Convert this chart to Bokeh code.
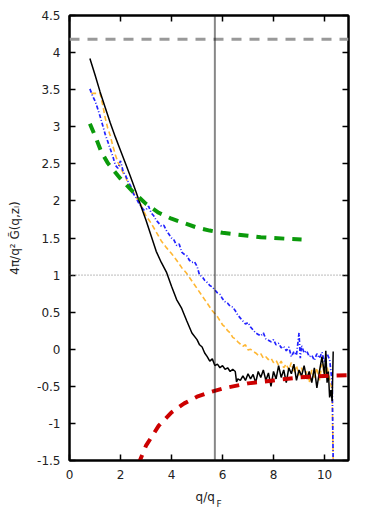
from bokeh.plotting import figure
from bokeh.models import Range1d, LinearAxis, Span, FixedTicker, CustomJSTickFormatter
from bokeh.embed import file_html
from bokeh.resources import INLINE

# ---------------- data ----------------
x_ticks = [0, 2, 4, 6, 8, 10]
y_ticks = [-1.5, -1, -0.5, 0, 0.5, 1, 1.5, 2, 2.5, 3, 3.5, 4, 4.5]

q_fermi_line = 5.7
g_limit = 4.18
unity = 1.0

black_q = [0.8, 1.0, 1.2, 1.4, 1.6, 1.8, 2.0, 2.2, 2.4, 2.6, 2.8, 3.0, 3.2, 3.4, 3.6, 3.8,
           4.0, 4.2, 4.4, 4.6, 4.8, 5.0, 5.1, 5.2, 5.3, 5.4, 5.5, 5.6, 5.7, 5.8, 5.9, 6.0,
           6.1, 6.2, 6.3, 6.4, 6.5, 6.55, 6.6, 6.7, 6.8, 6.9, 7.0, 7.1, 7.2, 7.3, 7.4, 7.5,
           7.6, 7.7, 7.8, 7.9, 8.0, 8.1, 8.2, 8.3, 8.4, 8.5, 8.6, 8.7, 8.8, 8.9, 9.0, 9.1,
           9.2, 9.3, 9.4, 9.5, 9.6, 9.7, 9.8, 9.9, 10.0, 10.05, 10.1, 10.15, 10.2, 10.25,
           10.3, 10.34]
black_g = [3.92, 3.70, 3.47, 3.26, 3.05, 2.86, 2.68, 2.50, 2.32, 2.13, 1.93, 1.74, 1.53,
           1.32, 1.17, 1.04, 0.85, 0.67, 0.55, 0.38, 0.22, 0.13, 0.06, 0.03, -0.05, -0.10,
           -0.16, -0.13, -0.22, -0.20, -0.25, -0.22, -0.27, -0.25, -0.30, -0.27, -0.30,
           -0.44, -0.40, -0.42, -0.36, -0.42, -0.33, -0.40, -0.34, -0.45, -0.30, -0.38,
           -0.28, -0.42, -0.32, -0.50, -0.30, -0.40, -0.22, -0.38, -0.28, -0.45, -0.25,
           -0.33, -0.20, -0.42, -0.28, -0.36, -0.22, -0.40, -0.30, -0.45, -0.25, -0.52,
           -0.30, -0.10, -0.35, -0.02, -0.45, -0.30, -0.65, -0.55, -0.70, -0.03]

blue_q = [0.8, 0.9, 1.0, 1.1, 1.2, 1.3, 1.4, 1.5, 1.6, 1.7, 1.8, 1.9, 2.0, 2.1, 2.2, 2.3,
          2.4, 2.5, 2.6, 2.7, 2.8, 2.9, 3.0, 3.1, 3.2, 3.3, 3.4, 3.5, 3.6, 3.7, 3.8, 3.9,
          4.0, 4.1, 4.2, 4.3, 4.4, 4.5, 4.6, 4.7, 4.8, 4.9, 5.0, 5.1, 5.2, 5.3, 5.4, 5.5,
          5.6, 5.7, 5.8, 5.9, 6.0, 6.1, 6.2, 6.3, 6.4, 6.5, 6.6, 6.7, 6.8, 6.9, 7.0, 7.1,
          7.2, 7.3, 7.4, 7.5, 7.6, 7.7, 7.8, 7.9, 8.0, 8.1, 8.2, 8.3, 8.4, 8.5, 8.6, 8.7,
          8.8, 8.9, 9.0, 9.05, 9.1, 9.2, 9.3, 9.4, 9.5, 9.6, 9.7, 9.8, 9.9, 10.0, 10.1,
          10.2, 10.3, 10.35]
blue_g = [3.51, 3.42, 3.35, 3.25, 3.14, 3.02, 2.90, 2.80, 2.70, 2.60, 2.48, 2.44, 2.54,
          2.40, 2.34, 2.26, 2.20, 2.10, 2.05, 1.98, 1.93, 1.88, 1.88, 1.93, 1.84, 1.80,
          1.74, 1.70, 1.66, 1.67, 1.60, 1.55, 1.50, 1.47, 1.40, 1.42, 1.31, 1.28, 1.26,
          1.20, 1.17, 1.18, 1.12, 1.00, 0.98, 0.93, 0.90, 0.86, 0.84, 0.80, 0.76, 0.74,
          0.68, 0.64, 0.62, 0.58, 0.57, 0.52, 0.46, 0.42, 0.38, 0.34, 0.36, 0.30, 0.26,
          0.22, 0.20, 0.18, 0.22, 0.14, 0.12, 0.10, 0.13, 0.06, 0.08, 0.02, 0.04, -0.02,
          0.03, -0.10, -0.03, -0.08, 0.22, -0.12, 0.05, -0.05, -0.02, -0.10, -0.08, -0.15,
          -0.06, -0.12, -0.04, -0.18, -0.06, -0.14, -0.45, -1.80]

orange_q = [0.85, 1.2, 1.3, 1.4, 1.5, 1.6, 1.7, 1.8, 1.9, 2.0, 2.1, 2.2, 2.3, 2.4, 2.5,
            2.6, 2.7, 2.8, 2.9, 3.0, 3.2, 3.4, 3.6, 3.8, 4.0, 4.2, 4.4, 4.6, 4.8, 5.0,
            5.2, 5.4, 5.6, 5.8, 6.0, 6.1, 6.2, 6.3, 6.4, 6.5, 6.6, 6.7, 6.8, 6.9, 7.0,
            7.1, 7.2, 7.3, 7.4, 7.5, 7.6, 7.7, 7.8, 7.9, 8.0, 8.1, 8.2, 8.3, 8.4, 8.5,
            8.6, 8.7, 8.8, 8.9, 9.0, 9.1, 9.2, 9.3, 9.4, 9.5, 9.6, 9.7, 9.8, 9.9, 10.0,
            10.1, 10.2, 10.3, 10.35]
orange_g = [3.45, 3.45, 3.30, 3.12, 2.98, 2.88, 2.74, 2.62, 2.52, 2.45, 2.38, 2.32, 2.24,
            2.18, 2.12, 2.06, 2.00, 1.95, 1.87, 1.80, 1.70, 1.58, 1.46, 1.37, 1.29, 1.20,
            1.10, 1.02, 0.92, 0.82, 0.72, 0.62, 0.52, 0.44, 0.33, 0.30, 0.25, 0.22, 0.16,
            0.14, 0.10, 0.07, 0.04, 0.06, -0.01, 0.00, -0.03, -0.05, -0.08, -0.06, -0.12,
            -0.10, -0.14, -0.12, -0.18, -0.15, -0.22, -0.16, -0.25, -0.20, -0.28, -0.18,
            -0.32, -0.22, -0.35, -0.25, -0.40, -0.30, -0.45, -0.28, -0.38, -0.25, -0.42,
            -0.20, -0.35, -0.24, -0.40, -0.55, -1.80]

green_q = [0.8, 1.0, 1.25, 1.5, 2.0, 2.5, 3.0, 3.5, 4.0, 4.5, 5.0, 5.5, 6.0, 6.5, 7.0,
           7.5, 8.0, 8.5, 9.1]
green_g = [3.04, 2.88, 2.66, 2.51, 2.30, 2.12, 1.96, 1.84, 1.76, 1.70, 1.64, 1.60, 1.57,
           1.55, 1.53, 1.51, 1.50, 1.49, 1.48]

red_q = [2.7, 3.0, 3.5, 4.0, 4.5, 5.0, 5.5, 6.0, 7.0, 8.0, 9.0, 10.0, 10.95]
red_g = [-1.55, -1.30, -1.03, -0.85, -0.73, -0.64, -0.58, -0.53, -0.46, -0.42, -0.38,
         -0.36, -0.35]

# ---------------- figure ----------------
FONT = "DejaVu Sans"
NB = "\u00a0"
p = figure(width=366, height=515, x_range=Range1d(0, 10.94), y_range=Range1d(-1.5, 4.5),
           output_backend="svg", toolbar_location=None,
           min_border_left=69, min_border_right=18, min_border_top=15, min_border_bottom=55)
p.xgrid.visible = False
p.ygrid.visible = False
p.outline_line_color = "black"
p.outline_line_width = 2
p.background_fill_color = "white"

fmt = CustomJSTickFormatter(code="return tick.toString();")
blank_fmt = CustomJSTickFormatter(code="return '';")

def style_axis(ax, ticks, show_labels=True):
    ax.ticker = FixedTicker(ticks=ticks)
    ax.major_tick_in = 6
    ax.major_tick_out = 0
    ax.minor_tick_line_color = None
    ax.axis_line_width = 2
    ax.major_tick_line_width = 1.5
    ax.major_label_text_font = FONT
    ax.major_label_text_color = "#222222"
    ax.major_label_text_font_size = "12px"
    if show_labels:
        ax.formatter = fmt
        ax.major_label_standoff = 9
    else:
        ax.formatter = blank_fmt
        ax.major_label_standoff = 0

style_axis(p.xaxis[0], x_ticks)
style_axis(p.yaxis[0], y_ticks)

p.yaxis[0].axis_label = "4π/q² G̃(q,zₗ)"
p.yaxis[0].axis_label_text_font = FONT
p.yaxis[0].axis_label_text_font_size = "12px"
p.yaxis[0].axis_label_text_font_style = "normal"
p.yaxis[0].axis_label_text_color = "#222222"
p.yaxis[0].axis_label_standoff = 12

# x label "q/q" with subscript F on a second (invisible) axis
p.xaxis[0].axis_label = "q/q" + NB * 2
p.xaxis[0].axis_label_text_font = FONT
p.xaxis[0].axis_label_text_font_size = "12px"
p.xaxis[0].axis_label_text_font_style = "normal"
p.xaxis[0].axis_label_text_color = "#222222"
p.xaxis[0].axis_label_standoff = 8

sub = LinearAxis(ticker=FixedTicker(ticks=[]), formatter=blank_fmt)
sub.axis_line_color = None
sub.major_tick_line_color = None
sub.minor_tick_line_color = None
sub.major_label_text_font_size = "1px"
sub.major_label_standoff = 0
sub.axis_label = NB * 7 + "F"
sub.axis_label_text_font = FONT
sub.axis_label_text_font_size = "9px"
sub.axis_label_text_font_style = "normal"
sub.axis_label_text_color = "#222222"
sub.axis_label_standoff = -8
p.add_layout(sub, "below")

top = LinearAxis()
style_axis(top, x_ticks, show_labels=False)
p.add_layout(top, "above")
right = LinearAxis()
style_axis(right, y_ticks, show_labels=False)
p.add_layout(right, "right")

# reference lines
p.add_layout(Span(location=g_limit, dimension="width", line_color="#999999",
                  line_width=3, line_dash="10 8"))

# curves
p.line(orange_q, orange_g, line_color="#ffb733", line_width=1.6, line_dash="5 3")
p.line(blue_q, blue_g, line_color="#2222ff", line_width=1.7, line_dash="4 2 1 2")
p.line(black_q, black_g, line_color="black", line_width=1.5)
p.line(green_q, green_g, line_color="#0b9a0b", line_width=4, line_dash="10 8")
p.line(red_q, red_g, line_color="#cc0000", line_width=4, line_dash="10 8")

p.add_layout(Span(location=unity, dimension="width", line_color="#777777",
                  line_width=1, line_dash="1 2"))
p.add_layout(Span(location=q_fermi_line, dimension="height", line_color="#111111",
                  line_width=2, line_dash="1 1"))

open("out.html", "w").write(file_html(p, INLINE))
